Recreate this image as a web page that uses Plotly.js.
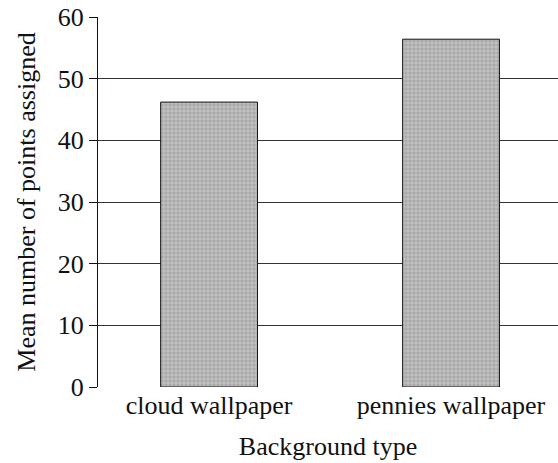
<!DOCTYPE html>
<html>
<head>
<meta charset="utf-8">
<script src="https://cdn.plot.ly/plotly-3.0.1.min.js"></script>
<style>html,body{margin:0;padding:0;background:#fff;}#chart{width:558px;height:463px;}</style>
</head>
<body>
<div id="chart"></div>
<script>
const categories = ["cloud wallpaper", "pennies wallpaper"];
const meanPoints = [46.2, 56.4];
const yTicks = [0, 10, 20, 30, 40, 50, 60];

const font = "Liberation Serif, DejaVu Serif, serif";
const fs = 26;

const trace = {
  type: "bar",
  x: categories,
  y: meanPoints,
  width: 0.4,
  marker: {
    color: "#a9a9a9",
    line: {color: "#111", width: 1},
    pattern: {shape: "+", fgcolor: "#d9d9d9", bgcolor: "#a9a9a9", size: 4, solidity: 0.25}
  },
  hoverinfo: "none"
};

const layout = {
  width: 558,
  height: 463,
  margin: {l: 98, r: 0, t: 17, b: 76},
  paper_bgcolor: "#fff",
  plot_bgcolor: "#fff",
  showlegend: false,
  font: {family: font, color: "#111", size: fs},
  xaxis: {
    range: [-0.459, 1.442],
    showgrid: false,
    showline: false,
    zeroline: false,
    ticks: "",
    tickfont: {family: font, size: fs, color: "#111"},
    title: {text: "Background type", font: {family: font, size: fs, color: "#111"}, standoff: 17}
  },
  yaxis: {
    range: [0, 60],
    tickvals: yTicks,
    ticktext: yTicks.map(String),
    showgrid: true,
    gridcolor: "#333",
    gridwidth: 1,
    zeroline: false,
    showline: true,
    linecolor: "#111",
    linewidth: 1,
    ticks: "outside",
    ticklen: 8,
    tickcolor: "#111",
    tickfont: {family: font, size: fs, color: "#111"},
    title: {text: "Mean number of points assigned", font: {family: font, size: fs, color: "#111"}, standoff: 14}
  }
};

Plotly.newPlot("chart", [trace], layout, {displayModeBar: false, staticPlot: true});
</script>
</body>
</html>
